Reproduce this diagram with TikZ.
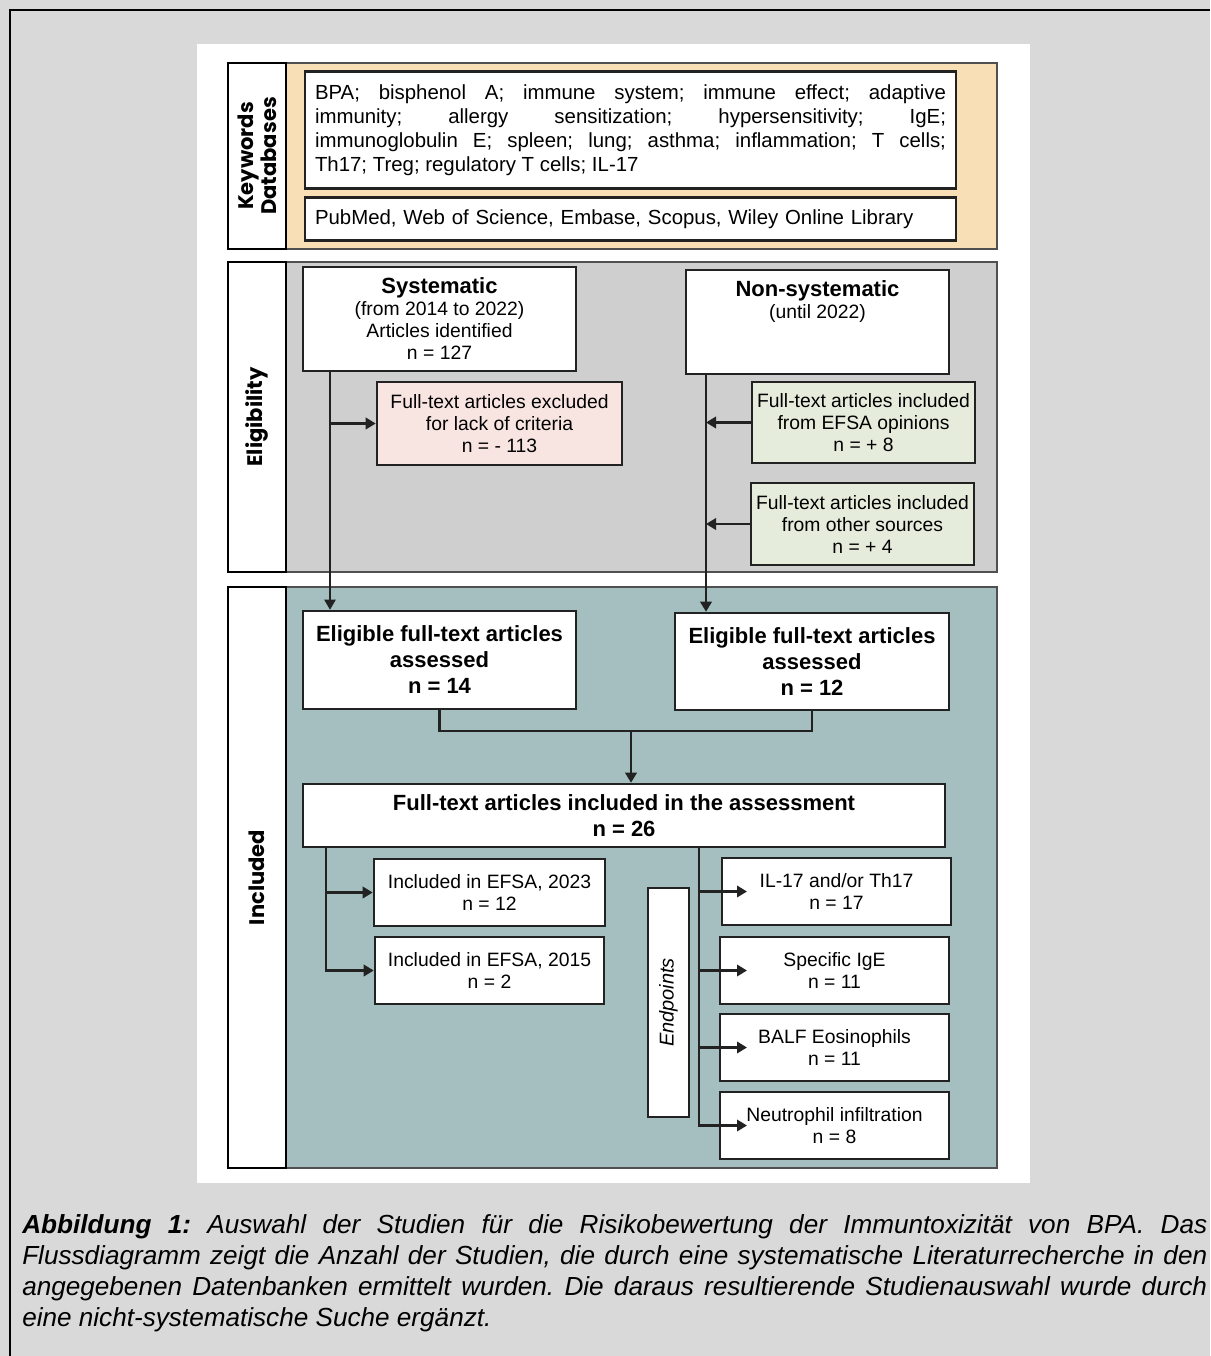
\documentclass[tikz,border=0pt]{standalone}
\usepackage{fontspec}
\setmainfont{Liberation Sans}
\newfontfamily\popf{Poppins}
\usetikzlibrary{arrows.meta}
\frenchspacing
\definecolor{bgc}{HTML}{D9D9D9}
\definecolor{tanc}{HTML}{F8DFB6}
\definecolor{grayc}{HTML}{CFCFCF}
\definecolor{tealc}{HTML}{A5BFC0}
\definecolor{pinkc}{HTML}{F8E5E2}
\definecolor{greenc}{HTML}{E5ECDC}
\definecolor{boxc}{HTML}{222222}
\definecolor{areac}{HTML}{505050}
\newcommand{\kwf}{\fontsize{15.3}{18}\selectfont}
\newcommand{\regf}{\fontsize{14.5}{16.5}\selectfont}
\newcommand{\ttlf}{\fontsize{16.5}{17}\selectfont\bfseries}
\newcommand{\bigf}{\fontsize{16.5}{19.5}\selectfont\bfseries}
\newcommand{\labf}{\popf\bfseries\fontsize{15.8}{17.5}\selectfont}
\begin{document}
\begin{tikzpicture}[x=0.75pt,y=-0.75pt,
  bx/.style n args={2}{minimum width=#1*0.75pt,minimum height=#2*0.75pt},
  box/.style={draw=boxc,line width=1.9pt,fill=white,inner sep=2pt,align=center,font=\regf},
  area/.style={draw=areac,line width=1.5pt,inner sep=0pt},
  lab/.style={draw=black,line width=2.2pt,fill=white,rotate=90,align=center,font=\labf,inner sep=0pt},
  con/.style={line width=1.8pt,draw=boxc},
  thinline/.style={line width=0.8pt,draw=boxc},
  tip/.style={-{Triangle[length=7.5pt,width=8.5pt]}},
]
% background and frame
\fill[bgc] (0,0) rectangle (1210,1356);
\useasboundingbox (0,0) rectangle (1210,1356);
\draw[line width=1.1pt] (10,1356) -- (10,10) -- (1210,10);
\fill[white] (197,44) rectangle (1030,1183);

% sections
\node[area, fill=tanc, bx={711}{186}] (kwa) at (641.5,156) {};
\node[lab, bx={186}{58}] (kwl) at (257,156) {Keywords\\Databases};
\node[area, fill=grayc, bx={711}{310}] (ela) at (641.5,417) {};
\node[lab, bx={310}{58}] (ell) at (257,417) {Eligibility};
\node[area, fill=tealc, bx={711}{581}] (ina) at (641.5,877.5) {};
\node[lab, bx={581}{58}] (inl) at (257,877.5) {Included};

% keywords / databases
\node[box, bx={651}{117}, text width=631*0.75pt, align=justify, font=\kwf, inner sep=0pt] (kw) at (630.5,130)
 {BPA; bisphenol A; immune system; immune effect; adaptive\linebreak immunity; allergy sensitization; hypersensitivity; IgE;\linebreak immunoglobulin E; spleen; lung; asthma; inflammation; T cells;\linebreak Th17; Treg; regulatory T cells; IL-17};
\node[box, bx={651}{43}, text width=631*0.75pt, align=left, font=\kwf, inner sep=0pt] (db) at (630.5,219)
 {PubMed, Web of Science, Embase, Scopus, Wiley Online Library};

% eligibility
\node[box, bx={273}{104}] (sys) at (439.5,319) {{\ttlf Systematic}\\(from 2014 to 2022)\\Articles identified\\n = 127};
\node[box, bx={263}{104}] (ns) at (817.5,322) {};
\node[font=\regf, align=center, inner sep=0pt] (nst) at (817.5,302) {{\ttlf Non-systematic}\\(until 2022)};
\node[box, fill=pinkc, bx={245}{83}] (exc) at (499.5,423.5) {Full-text articles excluded\\for lack of criteria\\n = - 113};
\node[box, fill=greenc, bx={223}{81}, inner sep=0pt] (op) at (863.5,422.5) {Full-text articles included\\from EFSA opinions\\n = + 8};
\node[box, fill=greenc, bx={223}{82}, inner sep=0pt] (oth) at (862.5,524) {Full-text articles included\\from other sources\\n = + 4};

% included
\node[box, bx={273}{98}, font=\bigf] (el1) at (439.5,660) {Eligible full-text articles\\assessed\\n = 14};
\node[box, bx={274}{97}, font=\bigf] (el2) at (812,661.5) {Eligible full-text articles\\assessed\\n = 12};
\node[box, bx={642}{63}, font=\bigf] (full) at (624,815.5) {Full-text articles included in the assessment\\n = 26};
\node[box, bx={231}{67}] (e23) at (489.5,892.5) {Included in EFSA, 2023\\n = 12};
\node[box, bx={229}{67}] (e15) at (489.5,970.5) {Included in EFSA, 2015\\n = 2};
\node[box, rotate=90, bx={229}{41}, font=\fontsize{15}{17}\selectfont\itshape] (endp) at (668.5,1002.5) {Endpoints};
\node[box, bx={229}{67}] (il) at (836.5,891.5) {IL-17 and/or Th17\\n = 17};
\node[box, bx={229}{67}] (ige) at (834.5,970.5) {Specific IgE\\n = 11};
\node[box, bx={229}{67}] (balf) at (834.5,1047.5) {BALF Eosinophils\\n = 11};
\node[box, bx={229}{67}] (neu) at (834.5,1125.5) {Neutrophil infiltration\\n = 8};

% helper coordinates
\coordinate (sl) at (330,0);
\coordinate (nl) at (706,0);
\coordinate (mid) at (631,731);
\coordinate (lb) at (326,0);
\coordinate (rb) at (699,0);
\coordinate (rt) at (747,0);

% connectors
\draw[thinline, tip] (sl |- sys.south) -- (sl |- el1.north);
\draw[con, tip] (sl |- exc.west) -- (exc.west);
\draw[con, tip] (nl |- ns.south) -- (nl |- el2.north);
\draw[con, tip] (op.west) -- (nl |- op.west);
\draw[con, tip] (oth.west) -- (nl |- oth.west);
\draw[con] (el1.south) |- (mid) -| (el2.south);
\draw[con, tip] (mid) -- (mid |- full.north);
\draw[con, tip] (lb |- full.south) |- (e15.west);
\draw[con, tip] (lb |- e23.west) -- (e23.west);
\draw[con, tip] (rb |- full.south) |- (rt |- neu.west);
\draw[con, tip] (rb |- il.west) -- (rt |- il.west);
\draw[con, tip] (rb |- ige.west) -- (rt |- ige.west);
\draw[con, tip] (rb |- balf.west) -- (rt |- balf.west);

% caption
\node[anchor=north west, inner sep=0pt, text width=1185*0.75pt, align=justify,
      font=\fontsize{19.6}{23.25}\selectfont\itshape] (cap) at (22,1214)
 {\textbf{Abbildung 1:} Auswahl der Studien für die Risikobewertung der Immuntoxizität von BPA. Das\linebreak
 Flussdiagramm zeigt die Anzahl der Studien, die durch eine systematische Literaturrecherche in den\linebreak
 angegebenen Datenbanken ermittelt wurden. Die daraus resultierende Studienauswahl wurde durch\linebreak
 eine nicht-systematische Suche ergänzt.};
\end{tikzpicture}
\end{document}
